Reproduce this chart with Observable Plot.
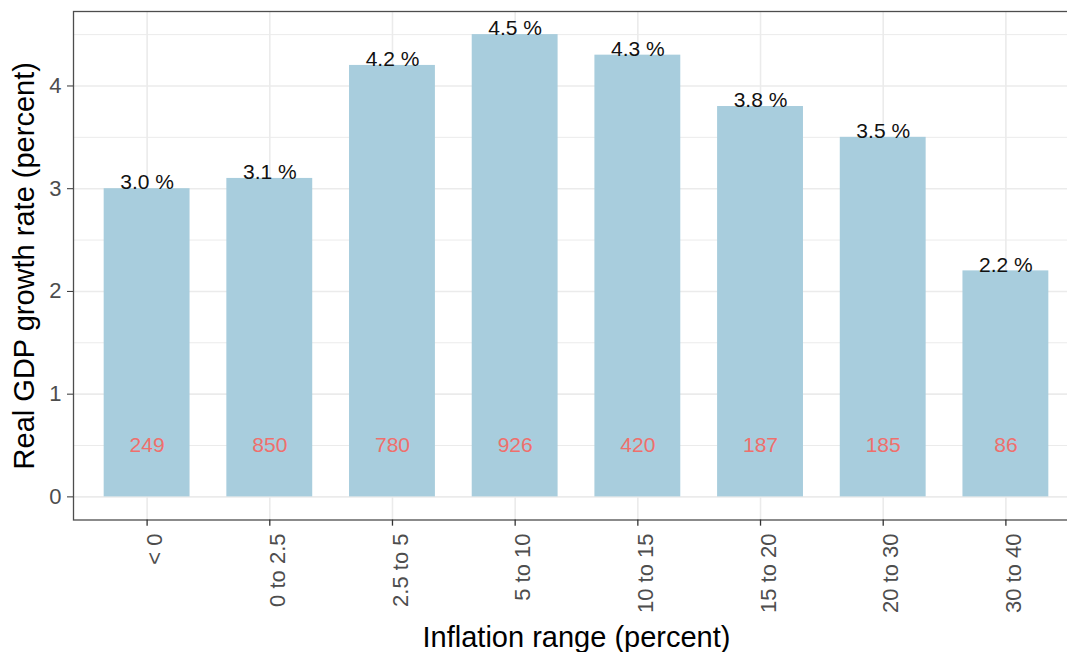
<!DOCTYPE html>
<html>
<head>
<meta charset="utf-8">
<script src="https://cdn.jsdelivr.net/npm/d3@7"></script>
<script src="https://cdn.jsdelivr.net/npm/@observablehq/plot@0.6"></script>
<style>
  html, body { margin: 0; padding: 0; background: #fff; overflow: hidden; width: 1067px; height: 652px; }
  #chart { width: 1067px; height: 652px; overflow: hidden; }
  #chart svg { display: block; max-width: none !important; }
</style>
</head>
<body>
<div id="chart"></div>
<script>
const categories = ["< 0", "0 to 2.5", "2.5 to 5", "5 to 10", "10 to 15", "15 to 20", "20 to 30", "30 to 40"];
const growth = [3.0, 3.1, 4.2, 4.5, 4.3, 3.8, 3.5, 2.2];
const counts = [249, 850, 780, 926, 420, 187, 185, 86];
const yMajor = [0, 1, 2, 3, 4];
const yMinor = [0.5, 1.5, 2.5, 3.5, 4.5];

const data = categories.map((c, i) => ({cat: c, growth: growth[i], count: counts[i]}));
const font = "Liberation Sans, Arial, Helvetica, sans-serif";

const chart = Plot.plot({
  width: 1080,
  height: 652,
  marginLeft: 73,
  marginRight: 1,
  marginTop: 11,
  marginBottom: 132.5,
  style: {fontFamily: font, background: "#fff", maxWidth: "none"},
  x: {type: "band", domain: categories, paddingInner: 0.3, paddingOuter: 0.25, round: false, axis: null},
  y: {domain: [-0.225, 4.725], axis: null},
  marks: [
    Plot.ruleY(yMinor, {stroke: "#ebebeb", strokeWidth: 1}),
    Plot.ruleY(yMajor, {stroke: "#ebebeb", strokeWidth: 1.6}),
    Plot.ruleX(categories, {x: d => d, stroke: "#ebebeb", strokeWidth: 1.6}),
    Plot.barY(data, {x: "cat", y: "growth", fill: "#a8cddd"}),
    Plot.text(data, {x: "cat", y: "growth", text: d => d.growth.toFixed(1) + " %", fontSize: 21, fill: "#111", lineAnchor: "middle", dy: -6}),
    Plot.text(data, {x: "cat", y: () => 0.5, text: d => String(d.count), fontSize: 21, fill: "#ef6f6c", lineAnchor: "middle"}),
    Plot.frame({stroke: "#4d4d4d", strokeWidth: 1.3}),
    Plot.axisY({ticks: yMajor, tickSize: 6, tickPadding: 6, tickFormat: d => String(d), fontSize: 22, stroke: "#333", fill: "#4d4d4d", label: null}),
    Plot.ruleX(categories, {x: d => d, y1: -0.225, y2: -0.285, stroke: "#333", strokeWidth: 1.3, clip: false}),
    Plot.text(categories, {x: d => d, frameAnchor: "bottom", rotate: -90, textAnchor: "end", lineAnchor: "middle", dx: 8, dy: 13.5, fontSize: 22, fill: "#4d4d4d"}),
    Plot.text(["Real GDP growth rate (percent)"], {frameAnchor: "left", rotate: -90, lineAnchor: "middle", textAnchor: "middle", dx: -49, fontSize: 29, fill: "#000"}),
    Plot.text(["Inflation range (percent)"], {frameAnchor: "bottom", lineAnchor: "middle", textAnchor: "middle", dy: 118, fontSize: 29, fill: "#000"})
  ]
});
document.getElementById("chart").appendChild(chart);
</script>
</body>
</html>
